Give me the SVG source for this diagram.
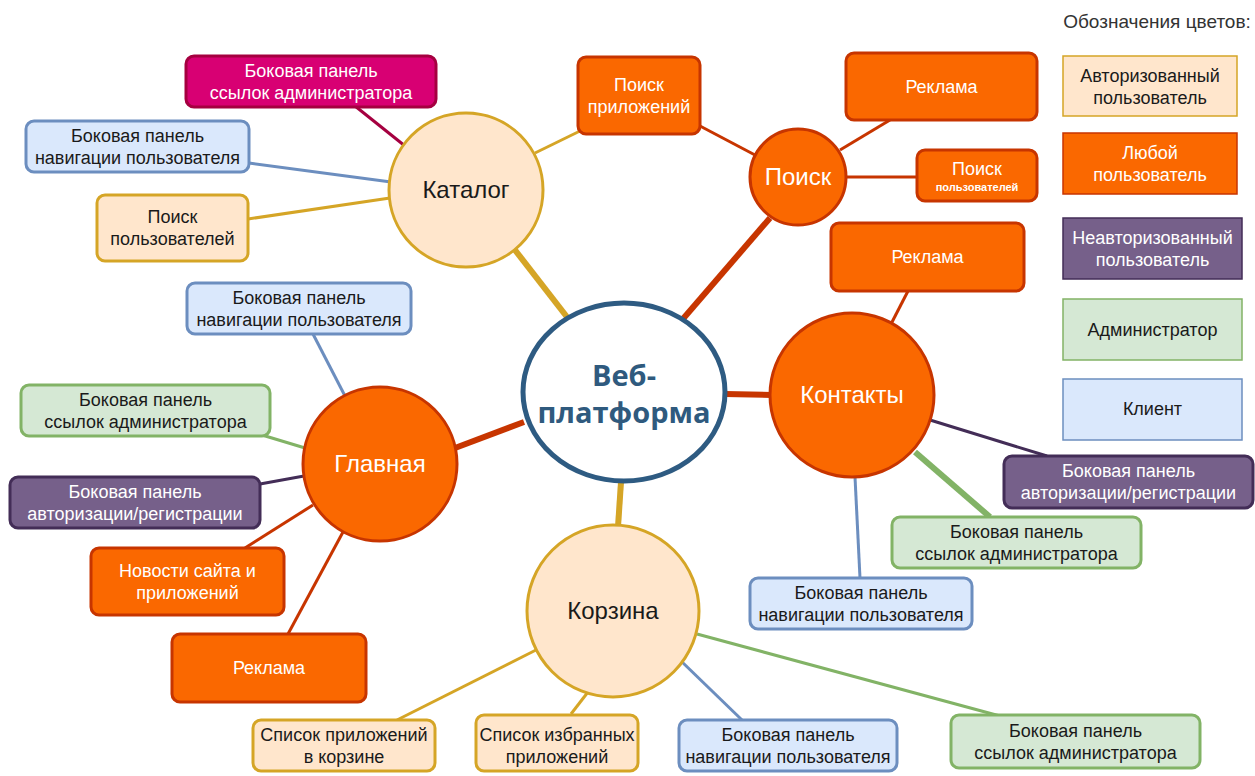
<svg xmlns="http://www.w3.org/2000/svg" width="1255" height="776" viewBox="0 0 1255 776">
  <style>
    text { font-family: "Liberation Sans", Arial, sans-serif; text-anchor: middle; }
    .lbl { font-size: 18px; fill: #1a1a1a; }
    .lbl-w { font-size: 18px; fill: #ffffff; }
    .hub { font-size: 24px; fill: #1a1a1a; }
    .hub-w { font-size: 24px; fill: #ffffff; }
    .core { font-family: "Open Sans", "Liberation Sans", sans-serif; font-weight: bold; font-size: 29px; fill: #2f5a7e; }
    .peach { fill: #ffe6cc; stroke: #d5a526; stroke-width: 3; }
    .orange { fill: #fa6800; stroke: #c73500; stroke-width: 3; }
    .purple { fill: #76608a; stroke: #432d57; stroke-width: 3; }
    .green { fill: #d5e8d4; stroke: #82b366; stroke-width: 3; }
    .blue { fill: #dae8fc; stroke: #6c8ebf; stroke-width: 3; }
    .magenta { fill: #d80073; stroke: #a50040; stroke-width: 3; }
    .key { stroke-width: 1.5; }
    .ln { fill: none; stroke-width: 3; }
    .thick { stroke-width: 6; }
    .c-gold { stroke: #d5a526; }
    .c-red { stroke: #c73500; }
    .c-blue { stroke: #6c8ebf; }
    .c-green { stroke: #82b366; }
    .c-purple { stroke: #432d57; }
    .c-mag { stroke: #a50040; }
  </style>
  <rect width="1255" height="776" fill="#ffffff"/>

  <!-- connectors -->
  <g id="connectors">
    <!-- hubs to the core -->
    <line class="ln thick c-gold" x1="515" y1="250" x2="567" y2="317"/>
    <line class="ln thick c-red" x1="770" y1="218" x2="682" y2="320"/>
    <line class="ln thick c-red" x1="725" y1="394" x2="772" y2="395"/>
    <line class="ln thick c-red" x1="455" y1="448" x2="524" y2="422"/>
    <line class="ln thick c-gold" x1="621" y1="482" x2="618" y2="527"/>
    <!-- Каталог -->
    <line class="ln c-mag" x1="355" y1="106" x2="405" y2="146"/>
    <line class="ln c-blue" x1="249" y1="163" x2="391" y2="182"/>
    <line class="ln c-gold" x1="248" y1="219" x2="390" y2="198"/>
    <line class="ln c-gold" x1="535" y1="153" x2="580" y2="131"/>
    <!-- Поиск -->
    <line class="ln c-red" x1="700" y1="126" x2="755" y2="155"/>
    <line class="ln c-red" x1="840" y1="150" x2="890" y2="120"/>
    <line class="ln c-red" x1="846" y1="177" x2="917" y2="177"/>
    <!-- Контакты -->
    <line class="ln c-red" x1="908" y1="291" x2="890" y2="326"/>
    <line class="ln c-purple" x1="930" y1="420" x2="1047" y2="456"/>
    <line class="ln thick c-green" x1="915" y1="452" x2="990" y2="517"/>
    <line class="ln c-blue" x1="855" y1="477" x2="860" y2="578"/>
    <!-- Главная -->
    <line class="ln c-blue" x1="313" y1="334" x2="345" y2="396"/>
    <line class="ln c-green" x1="262" y1="435" x2="305" y2="448"/>
    <line class="ln c-purple" x1="260" y1="484" x2="304" y2="476"/>
    <line class="ln c-red" x1="245" y1="548" x2="313" y2="505"/>
    <line class="ln c-red" x1="288" y1="634" x2="343" y2="532"/>
    <!-- Корзина -->
    <line class="ln c-gold" x1="397" y1="720" x2="536" y2="650"/>
    <line class="ln c-gold" x1="571" y1="714" x2="588" y2="692"/>
    <line class="ln c-blue" x1="680" y1="660" x2="742" y2="720"/>
    <line class="ln c-green" x1="697" y1="634" x2="1000" y2="716"/>
  </g>

  <!-- core -->
  <g id="core">
    <ellipse cx="624" cy="392" rx="101" ry="89" fill="#ffffff" stroke="#2e5b82" stroke-width="5"/>
    <text class="core" x="624" y="386">Веб-</text>
    <text class="core" x="624" y="423">платформа</text>
  </g>

  <!-- hubs -->
  <g id="hub-catalog">
    <circle class="peach" cx="466" cy="190" r="77"/>
    <text class="hub" x="466" y="198">Каталог</text>
  </g>
  <g id="hub-search">
    <circle class="orange" cx="798" cy="177" r="48"/>
    <text class="hub-w" x="798" y="185">Поиск</text>
  </g>
  <g id="hub-contacts">
    <circle class="orange" cx="852" cy="395" r="82"/>
    <text class="hub-w" x="852" y="403">Контакты</text>
  </g>
  <g id="hub-main">
    <circle class="orange" cx="380" cy="464" r="77"/>
    <text class="hub-w" x="380" y="472">Главная</text>
  </g>
  <g id="hub-cart">
    <circle class="peach" cx="613" cy="611" r="86"/>
    <text class="hub" x="613" y="619">Корзина</text>
  </g>

  <!-- Каталог leaves -->
  <g id="cat-admin">
    <rect class="magenta" x="186" y="56" width="250" height="51" rx="8"/>
    <text class="lbl-w" x="311" y="77">Боковая панель</text>
    <text class="lbl-w" x="311" y="99">ссылок администратора</text>
  </g>
  <g id="cat-nav">
    <rect class="blue" x="26" y="121" width="223" height="51" rx="8"/>
    <text class="lbl" x="137.5" y="142">Боковая панель</text>
    <text class="lbl" x="137.5" y="164">навигации пользователя</text>
  </g>
  <g id="cat-users">
    <rect class="peach" x="97" y="195" width="151" height="66" rx="8"/>
    <text class="lbl" x="172.5" y="223">Поиск</text>
    <text class="lbl" x="172.5" y="245">пользователей</text>
  </g>

  <!-- Поиск leaves -->
  <g id="search-apps">
    <rect class="orange" x="578" y="57" width="122" height="77" rx="8"/>
    <text class="lbl-w" x="639" y="91">Поиск</text>
    <text class="lbl-w" x="639" y="113">приложений</text>
  </g>
  <g id="search-ad">
    <rect class="orange" x="846" y="53" width="191" height="67" rx="8"/>
    <text class="lbl-w" x="941.5" y="93">Реклама</text>
  </g>
  <g id="search-users">
    <rect class="orange" x="917" y="150" width="120" height="51" rx="8"/>
    <text class="lbl-w" x="977" y="175">Поиск</text>
    <text class="lbl-w" x="977" y="191" style="font-size:11px; font-weight:bold">пользователей</text>
  </g>

  <!-- Контакты leaves -->
  <g id="contacts-ad">
    <rect class="orange" x="831" y="223" width="193" height="68" rx="8"/>
    <text class="lbl-w" x="927.5" y="263">Реклама</text>
  </g>
  <g id="contacts-auth">
    <rect class="purple" x="1004" y="456" width="249" height="52" rx="8"/>
    <text class="lbl-w" x="1128.5" y="477">Боковая панель</text>
    <text class="lbl-w" x="1128.5" y="499">авторизации/регистрации</text>
  </g>
  <g id="contacts-admin">
    <rect class="green" x="892" y="517" width="249" height="51" rx="8"/>
    <text class="lbl" x="1016.5" y="538">Боковая панель</text>
    <text class="lbl" x="1016.5" y="560">ссылок администратора</text>
  </g>
  <g id="contacts-nav">
    <rect class="blue" x="750" y="578" width="222" height="51" rx="8"/>
    <text class="lbl" x="861" y="599">Боковая панель</text>
    <text class="lbl" x="861" y="621">навигации пользователя</text>
  </g>

  <!-- Главная leaves -->
  <g id="main-nav">
    <rect class="blue" x="187" y="283" width="224" height="51" rx="8"/>
    <text class="lbl" x="299" y="304">Боковая панель</text>
    <text class="lbl" x="299" y="326">навигации пользователя</text>
  </g>
  <g id="main-admin">
    <rect class="green" x="21" y="385" width="249" height="51" rx="8"/>
    <text class="lbl" x="145.5" y="406">Боковая панель</text>
    <text class="lbl" x="145.5" y="428">ссылок администратора</text>
  </g>
  <g id="main-auth">
    <rect class="purple" x="10" y="477" width="250" height="51" rx="8"/>
    <text class="lbl-w" x="135" y="498">Боковая панель</text>
    <text class="lbl-w" x="135" y="520">авторизации/регистрации</text>
  </g>
  <g id="main-news">
    <rect class="orange" x="91" y="548" width="193" height="67" rx="8"/>
    <text class="lbl-w" x="187.5" y="577">Новости сайта и</text>
    <text class="lbl-w" x="187.5" y="599">приложений</text>
  </g>
  <g id="main-ad">
    <rect class="orange" x="172" y="634" width="194" height="68" rx="8"/>
    <text class="lbl-w" x="269" y="674">Реклама</text>
  </g>

  <!-- Корзина leaves -->
  <g id="cart-list">
    <rect class="peach" x="253" y="720" width="182" height="51" rx="8"/>
    <text class="lbl" x="344" y="741">Список приложений</text>
    <text class="lbl" x="344" y="763">в корзине</text>
  </g>
  <g id="cart-fav">
    <rect class="peach" x="476" y="715" width="162" height="56" rx="8"/>
    <text class="lbl" x="557" y="741">Список избранных</text>
    <text class="lbl" x="557" y="763">приложений</text>
  </g>
  <g id="cart-nav">
    <rect class="blue" x="679" y="720" width="218" height="51" rx="8"/>
    <text class="lbl" x="788" y="741">Боковая панель</text>
    <text class="lbl" x="788" y="763">навигации пользователя</text>
  </g>
  <g id="cart-admin">
    <rect class="green" x="951" y="715" width="249" height="53" rx="8"/>
    <text class="lbl" x="1075.5" y="737">Боковая панель</text>
    <text class="lbl" x="1075.5" y="759">ссылок администратора</text>
  </g>

  <!-- colour key -->
  <g id="legend">
    <text x="1157" y="28" style="font-size:19px; fill:#333333">Обозначения цветов:</text>
    <rect class="peach key" x="1063" y="56" width="174" height="60"/>
    <text class="lbl" x="1150" y="82">Авторизованный</text>
    <text class="lbl" x="1150" y="104">пользователь</text>
    <rect class="orange key" x="1063" y="133" width="174" height="61"/>
    <text class="lbl-w" x="1150" y="159">Любой</text>
    <text class="lbl-w" x="1150" y="181">пользователь</text>
    <rect class="purple key" x="1063" y="218" width="179" height="61"/>
    <text class="lbl-w" x="1152.5" y="244">Неавторизованный</text>
    <text class="lbl-w" x="1152.5" y="266">пользователь</text>
    <rect class="green key" x="1063" y="299" width="179" height="61"/>
    <text class="lbl" x="1152.5" y="336">Администратор</text>
    <rect class="blue key" x="1063" y="379" width="179" height="61"/>
    <text class="lbl" x="1152.5" y="415">Клиент</text>
  </g>
</svg>
